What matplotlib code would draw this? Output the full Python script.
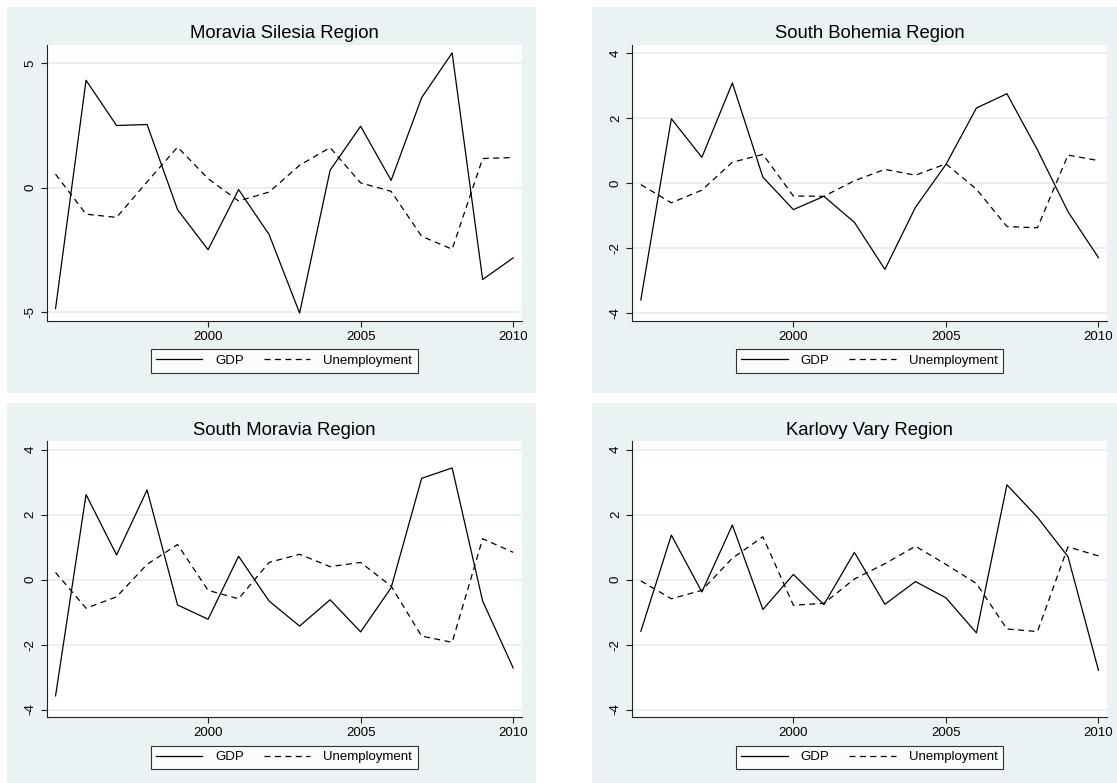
import matplotlib.pyplot as plt
from matplotlib.patches import Rectangle

plt.rcParams['font.family'] = ['Liberation Sans', 'DejaVu Sans']
plt.rcParams['axes.unicode_minus'] = False
plt.rcParams['lines.scale_dashes'] = False

# Data
years = list(range(1995, 2011))

ms_gdp = [-4.87, 4.32, 2.50, 2.54, -0.89, -2.50, -0.08, -1.89, -5.05, 0.70, 2.47, 0.29, 3.62, 5.42, -3.70, -2.83]
ms_unemp = [0.54, -1.07, -1.20, 0.23, 1.63, 0.36, -0.54, -0.18, 0.90, 1.61, 0.19, -0.15, -1.96, -2.48, 1.17, 1.21]

sb_gdp = [-3.59, 1.99, 0.80, 3.09, 0.19, -0.81, -0.40, -1.20, -2.65, -0.74, 0.58, 2.32, 2.76, 1.03, -0.87, -2.29]
sb_unemp = [-0.04, -0.60, -0.21, 0.65, 0.89, -0.39, -0.40, 0.08, 0.43, 0.25, 0.60, -0.18, -1.33, -1.37, 0.87, 0.70]

sm_gdp = [-3.58, 2.62, 0.76, 2.76, -0.78, -1.22, 0.72, -0.66, -1.43, -0.62, -1.61, -0.25, 3.12, 3.44, -0.66, -2.72]
sm_unemp = [0.22, -0.88, -0.53, 0.47, 1.08, -0.33, -0.59, 0.53, 0.78, 0.40, 0.53, -0.20, -1.74, -1.93, 1.26, 0.84]

kv_gdp = [-1.59, 1.37, -0.38, 1.68, -0.92, 0.16, -0.77, 0.84, -0.76, -0.06, -0.56, -1.64, 2.92, 1.92, 0.71, -2.79]
kv_unemp = [-0.04, -0.59, -0.33, 0.66, 1.32, -0.79, -0.73, 0.02, 0.49, 1.03, 0.47, -0.12, -1.52, -1.60, 1.01, 0.73]

titles = ['Moravia Silesia Region', 'South Bohemia Region', 'South Moravia Region', 'Karlovy Vary Region']
xticks = [2000, 2005, 2010]
yticks_ms = [-5, 0, 5]
yticks_other = [-4, -2, 0, 2, 4]

W, H = 1117, 783
bg = '#EAF2F3'
grid_col = '#E4EDEF'
ink = '#222222'

fig = plt.figure(figsize=(W / 100, H / 100), dpi=100)

panels = [
    (titles[0], ms_gdp, ms_unemp, yticks_ms, (-5.37, 5.74), 0, 0),
    (titles[1], sb_gdp, sb_unemp, yticks_other, (-4.24, 4.26), 1, 0),
    (titles[2], sm_gdp, sm_unemp, yticks_other, (-4.24, 4.26), 0, 1),
    (titles[3], kv_gdp, kv_unemp, yticks_other, (-4.24, 4.26), 1, 1),
]

dx, dy = 585.3, 396.3
for title, gdp, unemp, yt, ylim, col, row in panels:
    ox, oy = col * dx, row * dy

    # panel background (graph region), kept behind the axes
    x0, x1 = 7 + ox, 536 + ox
    y0, y1 = 7 + oy, 392.5 + oy
    fig.patches.append(Rectangle((x0 / W, 1 - y1 / H), (x1 - x0) / W, (y1 - y0) / H,
                                 transform=fig.transFigure, facecolor=bg,
                                 edgecolor='none', zorder=-1))

    # plot region
    l, r = 46.7 + ox, 521.7 + ox
    t, b = 45 + oy, 321 + oy
    ax = fig.add_axes([l / W, 1 - b / H, (r - l) / W, (b - t) / H])
    ax.set_facecolor('white')

    ax.plot(years, gdp, color='black', lw=0.9, label='GDP')
    ax.plot(years, unemp, color='black', lw=0.9, dashes=(4.3, 3.2), label='Unemployment')

    ax.set_xlim(1994.71, 2010.28)
    ax.set_ylim(*ylim)
    ax.set_xticks(xticks)
    ax.set_yticks(yt)
    ax.yaxis.grid(True, color=grid_col, lw=1.2)
    ax.set_axisbelow(True)

    for side in ['top', 'right']:
        ax.spines[side].set_visible(False)
    for side in ['left', 'bottom']:
        ax.spines[side].set_color(ink)
        ax.spines[side].set_linewidth(0.8)

    ax.tick_params(axis='both', direction='out', length=4.3, width=0.8,
                   color=ink, labelsize=9.5, pad=3)
    ax.tick_params(axis='y', labelrotation=90)
    plt.setp(ax.get_yticklabels(), va='center')

    ax.set_title(title, fontsize=13.3, pad=4.8)

    leg = ax.legend(loc='upper center', bbox_to_anchor=(0.5, -0.1025), ncol=2,
                    frameon=True, fancybox=False, edgecolor='black', fontsize=9.5,
                    handlelength=3.5, handletextpad=1.0, columnspacing=1.5,
                    borderaxespad=0, borderpad=0.42)
    leg.get_frame().set_linewidth(0.8)
    leg.get_frame().set_facecolor('white')

fig.savefig('out.png', dpi=100, facecolor='white')
